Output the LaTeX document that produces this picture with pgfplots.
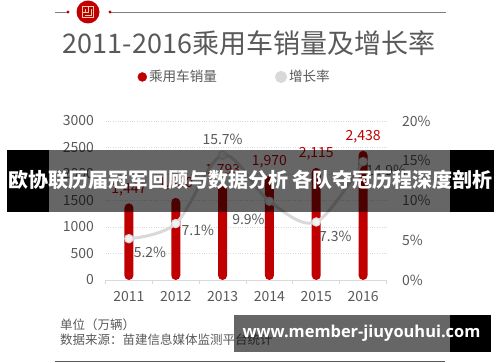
\documentclass[border=0pt]{standalone}
\usepackage{fontspec}
\setmainfont{Noto Sans CJK SC}
\newfontfamily\urlfont{Open Sans}
\usepackage{pgfplots}
\usepackage{pgfplotstable}
\pgfplotsset{compat=1.18}
\definecolor{cred}{HTML}{C00000}
\definecolor{ctext}{HTML}{595959}
\definecolor{cline}{HTML}{D9D9D9}
\definecolor{corange}{HTML}{F8CBAD}

\pgfplotstableread{
x sales
0 1447
1 1550
2 1793
3 1970
4 2115
5 2438
}\sales

\pgfplotstableread{
x g dx dy
0 5.2 21 -14
1 7.1 22 -7
2 15.7 0 16
3 9.9 -21 -18
4 7.3 19 -14
5 14.9 23 -9
}\growth

\begin{document}
\begin{tikzpicture}
\path[use as bounding box] (0pt,0pt) rectangle (500pt,362pt);

\begin{scope}[x=1pt,y=1pt]
% header decoration
\draw[line width=0.6pt, color=gray] (55,350) -- (68,350);
\draw[line width=0.6pt, color=gray] (110,350) -- (446,350);
\fill[cred] (68,350) circle (1.6);
\fill[cred] (110,350) circle (1.6);
\fill[cred] (88,350) circle (11.5);
\draw[corange, line width=0.9pt] (82.5,344.5) rectangle (93.5,355.5);
\draw[corange, line width=0.9pt] (82.5,350) -- (88,350) -- (88,355.5);
\draw[corange, line width=0.9pt] (85,347) -- (91,347) -- (91,353);
\draw[corange, line width=0.9pt] (85,352.5) -- (85,350);

% title
\node[text=ctext, font=\fontsize{27}{27}\selectfont] at (249,319) {2011-2016乘用车销量及增长率};

% bottom texts
\node[anchor=west, text=ctext, font=\fontsize{12.5}{13}\selectfont, inner sep=0] at (60,37) {单位（万辆）};
\node[anchor=west, text=ctext, font=\fontsize{12.5}{13}\selectfont, inner sep=0] at (60,22) {数据来源：苗建信息媒体监测平台统计};
\draw[ctext, line width=1pt] (55,1) -- (445,1);
\end{scope}

\begin{axis}[
  at={(105.5pt,82pt)}, anchor=south west,
  scale only axis, width=281pt, height=159pt,
  xmin=-0.5, xmax=5.5, ymin=0, ymax=3000,
  xtick={0,1,2,3,4,5},
  xticklabels={2011,2012,2013,2014,2015,2016},
  minor xtick={-0.5,0.5,1.5,2.5,3.5,4.5,5.5},
  ytick={0,500,1000,1500,2000,2500,3000},
  major tick length=0pt, minor tick length=4pt,
  tick align=outside,
  minor tick style={cline, line width=0.8pt},
  axis x line*=bottom, axis y line*=left,
  x axis line style={cline, line width=1pt, -},
  y axis line style={draw=none},
  ymajorgrids, grid style={cline, dotted, line width=0.8pt},
  tick label style={font=\fontsize{14}{14}\selectfont, text=ctext},
  /pgf/number format/assume math mode=true,
  /pgf/number format/1000 sep={},
  yticklabel style={xshift=-8pt},
  xticklabel style={yshift=-8pt},
  clip=false,
]
\addplot[ybar, bar width=9pt, fill=cred, draw=none, rounded corners=4.5pt,
  nodes near coords={\pgfmathprintnumber[1000 sep={,}]{\pgfplotspointmeta}},
  every node near coord/.append style={font=\fontsize{14}{14}\selectfont, text=cred, yshift=4pt}]
  table[x=x, y=sales] {\sales};
\end{axis}

\begin{axis}[
  at={(105.5pt,82pt)}, anchor=south west,
  scale only axis, width=281pt, height=159pt,
  xmin=-0.5, xmax=5.5, ymin=0, ymax=20,
  axis x line=none,
  axis y line*=right,
  y axis line style={draw=none},
  ytick={0,5,10,15,20},
  yticklabel={\pgfmathprintnumber{\tick}\%},
  major tick length=0pt,
  tick label style={font=\fontsize{14}{14}\selectfont, text=ctext},
  /pgf/number format/assume math mode=true,
  yticklabel style={xshift=12pt},
  clip=false,
  legend style={at={(0.103,1.277)}, anchor=west, draw=none, fill=none,
    font=\fontsize{13.6}{13.6}\selectfont, text=ctext,
    /tikz/every even column/.append style={column sep=56pt}},
  legend columns=2,
]
\addlegendimage{legend image code/.code={\fill[cred] (0,0) circle (4.5pt);}}
\addlegendentry{乘用车销量}
\addplot[smooth, tension=0.55, line width=3pt, color=cline,
  mark=*, mark size=4.2pt, mark options={fill=white!90!gray, draw=cline, line width=1pt},
  visualization depends on={\thisrow{dx} \as \dx},
  visualization depends on={\thisrow{dy} \as \dy},
  nodes near coords={\pgfmathprintnumber[fixed,precision=1,fixed zerofill]{\pgfplotspointmeta}\%},
  every node near coord/.append style={anchor=center, xshift=\dx pt, yshift=\dy pt,
    font=\fontsize{14}{14}\selectfont, text=ctext},
  legend image code/.code={\fill[cline] (0,0) circle (4.5pt);}]
  table[x=x, y=g] {\growth};
\addlegendentry{增长率}
\end{axis}

\begin{scope}[x=1pt,y=1pt]
% overlay banners
\fill[black] (7,150) rectangle (49,212);
\fill[black, opacity=0.6] (49,150) rectangle (450,212);
\fill[black] (450,150) rectangle (494,212);
\node[text=white, font=\bfseries\fontsize{20}{20}\selectfont] at (250.5,182) {欧协联历届冠军回顾与数据分析 各队夺冠历程深度剖析};

\fill[black, opacity=0.6] (234,10) rectangle (450,47);
\fill[black] (450,10) rectangle (491,47);
\node[text=white, font=\urlfont\bfseries\fontsize{16.4}{16.4}\selectfont] at (361.5,28.5) {www.member-jiuyouhui.com};
\end{scope}
\end{tikzpicture}
\end{document}
